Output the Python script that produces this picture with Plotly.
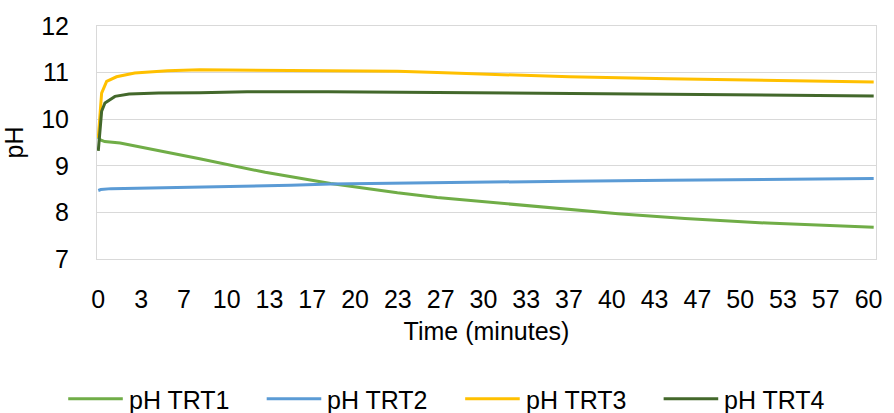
import plotly.graph_objects as go

# Readings (minutes, pH) for each treatment
time_trt1 = [0, 0.13, 0.5, 1.7, 7.9, 13.0, 18.1, 23.3, 26.4, 31.6, 36.7, 40.5, 45.7, 52.1, 60.4]
ph_trt1 = [9.62, 9.56, 9.52, 9.49, 9.15, 8.86, 8.62, 8.42, 8.32, 8.19, 8.06, 7.97, 7.87, 7.77, 7.68]

time_trt2 = [0, 0.2, 1.0, 7.9, 15.0, 18.1, 26.4, 36.7, 44.4, 52.1, 60.4]
ph_trt2 = [8.47, 8.49, 8.51, 8.54, 8.58, 8.61, 8.63, 8.67, 8.69, 8.71, 8.73]

time_trt3 = [0, 0.26, 0.65, 1.42, 2.84, 5.4, 7.9, 12.5, 17.9, 23.3, 26.4, 31.0, 36.7, 44.4, 52.1, 60.4]
ph_trt3 = [9.60, 10.56, 10.81, 10.91, 10.99, 11.04, 11.06, 11.05, 11.05, 11.03, 11.00, 10.96, 10.91, 10.87, 10.83, 10.80]

time_trt4 = [0, 0.26, 0.52, 1.3, 2.4, 4.7, 7.9, 11.6, 17.9, 26.4, 31.6, 41.8, 52.1, 57.7, 60.4]
ph_trt4 = [9.32, 10.17, 10.35, 10.49, 10.54, 10.56, 10.57, 10.59, 10.59, 10.57, 10.56, 10.53, 10.52, 10.50, 10.50]

series_names = ["pH TRT1", "pH TRT2", "pH TRT3", "pH TRT4"]
series_colors = ["#70AD47", "#5B9BD5", "#FFC000", "#43682B"]

# Axis ticks every 10/3 minute, labelled with rounded minutes
tick_vals = [i * 10 / 3 for i in range(19)]
tick_text = [str(round(v)) for v in tick_vals]
y_ticks = [7, 8, 9, 10, 11, 12]

FONT = "Liberation Sans, Arial, sans-serif"

fig = go.Figure()
for name, color, t, p in zip(
    series_names,
    series_colors,
    [time_trt1, time_trt2, time_trt3, time_trt4],
    [ph_trt1, ph_trt2, ph_trt3, ph_trt4],
):
    fig.add_trace(go.Scatter(
        x=t, y=p, name=name, mode="lines",
        line=dict(color=color, width=3),
        showlegend=False,
    ))

# Legend row drawn beneath the plot: a line sample followed by its label
L, T, W, H = 97, 24, 785, 235
for i, (name, color) in enumerate(zip(series_names, series_colors)):
    x0 = 68 + 200 * i
    fig.add_shape(
        type="line", xref="paper", yref="paper",
        x0=(x0 - L) / W, x1=(x0 + 55 - L) / W,
        y0=(T + H - 400) / H, y1=(T + H - 400) / H,
        line=dict(color=color, width=3),
    )
    fig.add_annotation(
        xref="paper", yref="paper",
        x=(x0 + 59 - L) / W, y=(T + H - 401) / H,
        xanchor="left", yanchor="middle",
        text=name, showarrow=False,
        font=dict(family=FONT, size=25, color="#000000"),
    )

fig.update_layout(
    width=894, height=413,
    margin=dict(l=L, r=894 - L - W, t=T, b=413 - T - H),
    paper_bgcolor="white", plot_bgcolor="white",
    font=dict(family=FONT, size=25, color="#000000"),
    showlegend=False,
)
fig.update_xaxes(
    range=[-0.1, 60.58],
    tickmode="array", tickvals=tick_vals, ticktext=tick_text,
    showgrid=False, zeroline=False,
    showline=True, linecolor="#D9D9D9", linewidth=1, mirror=True,
    ticks="", ticklabelstandoff=18,
    tickfont=dict(family=FONT, size=25, color="#000000"),
    title=dict(text="Time (minutes)", standoff=10,
               font=dict(family=FONT, size=25, color="#000000")),
)
fig.update_yaxes(
    range=[7, 12], tickvals=y_ticks,
    showgrid=True, gridcolor="#D9D9D9", gridwidth=1, zeroline=False,
    showline=True, linecolor="#D9D9D9", linewidth=1, mirror=True,
    ticks="", ticklabelstandoff=22,
    tickfont=dict(family=FONT, size=25, color="#000000"),
    title=dict(text="pH", standoff=10,
               font=dict(family=FONT, size=25, color="#000000")),
)

fig.write_html("out.html")
